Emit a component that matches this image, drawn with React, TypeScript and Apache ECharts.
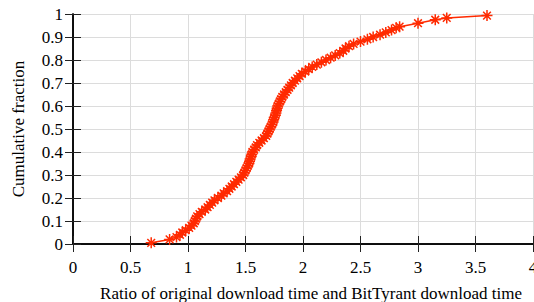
import React, { useEffect, useRef } from "react";
import * as echarts from "echarts";

const xTicks = [0, 0.5, 1, 1.5, 2, 2.5, 3, 3.5, 4];
const yTicks = [0, 0.1, 0.2, 0.3, 0.4, 0.5, 0.6, 0.7, 0.8, 0.9, 1];

const ratio = [
  0.68, 0.84, 0.9, 0.93, 0.95, 0.98, 1.01, 1.03, 1.05, 1.06,
  1.07, 1.08, 1.1, 1.12, 1.15, 1.17, 1.19, 1.21, 1.23, 1.26,
  1.29, 1.31, 1.34, 1.36, 1.38, 1.4, 1.42, 1.44, 1.46, 1.48,
  1.49, 1.5, 1.51, 1.52, 1.53, 1.535, 1.54, 1.55, 1.555, 1.56,
  1.575, 1.59, 1.6, 1.62, 1.64, 1.66, 1.68, 1.69, 1.7, 1.71,
  1.72, 1.73, 1.74, 1.745, 1.75, 1.76, 1.765, 1.77, 1.775, 1.78,
  1.79, 1.8, 1.81, 1.82, 1.835, 1.85, 1.865, 1.88, 1.895, 1.91,
  1.93, 1.95, 1.97, 1.99, 2.02, 2.05, 2.08, 2.12, 2.16, 2.2,
  2.24, 2.28, 2.32, 2.35, 2.37, 2.4, 2.44, 2.5, 2.56, 2.61,
  2.67, 2.72, 2.77, 2.81, 2.84, 3.0, 3.15, 3.25, 3.6,
];
const fraction = [
  0.005, 0.02, 0.03, 0.04, 0.05, 0.06, 0.07, 0.08, 0.09, 0.1,
  0.11, 0.12, 0.13, 0.14, 0.15, 0.16, 0.17, 0.18, 0.19, 0.2,
  0.21, 0.22, 0.23, 0.24, 0.25, 0.26, 0.27, 0.28, 0.29, 0.3,
  0.31, 0.32, 0.33, 0.34, 0.35, 0.36, 0.37, 0.38, 0.39, 0.4,
  0.41, 0.42, 0.43, 0.44, 0.45, 0.46, 0.47, 0.48, 0.49, 0.5,
  0.51, 0.52, 0.53, 0.54, 0.55, 0.56, 0.57, 0.58, 0.59, 0.6,
  0.61, 0.62, 0.63, 0.64, 0.65, 0.66, 0.67, 0.68, 0.69, 0.7,
  0.71, 0.72, 0.73, 0.74, 0.75, 0.76, 0.77, 0.78, 0.79, 0.8,
  0.81, 0.82, 0.83, 0.84, 0.85, 0.86, 0.87, 0.88, 0.89, 0.9,
  0.91, 0.92, 0.93, 0.94, 0.945, 0.96, 0.975, 0.983, 0.993,
];

const xTitle = "Ratio of original download time and BitTyrant download time";
const yTitle = "Cumulative fraction";

const FONT = "Times New Roman, Liberation Serif, serif";
const RED = "#ff2a00";
const STAR =
  "path://M5,0L5,10M0,5L10,5M1.5,1.5L8.5,8.5M1.5,8.5L8.5,1.5";

export default function App() {
  const ref = useRef<HTMLDivElement>(null);
  useEffect(() => {
    if (!ref.current) return;
    const chart = echarts.init(ref.current, null, { renderer: "svg" });
    const axisCommon = {
      type: "value" as const,
      axisLine: { show: true, lineStyle: { color: "#000", width: 1.5 } },
      axisTick: { show: true, inside: true, length: 8, lineStyle: { color: "#222", width: 1 } },
    };
    const label = { fontFamily: FONT, fontSize: 17, color: "#000" };
    chart.setOption({
      animation: false,
      backgroundColor: "#fff",
      textStyle: { fontFamily: FONT },
      grid: {
        left: 73,
        right: 1,
        top: 14,
        bottom: 58,
        containLabel: false,
        outerBoundsMode: "none",
      },
      xAxis: [
        {
          ...axisCommon,
          min: xTicks[0],
          max: xTicks[xTicks.length - 1],
          interval: 0.5,
          name: xTitle,
          nameLocation: "middle",
          nameGap: 41,
          nameTextStyle: { ...label, padding: [0, 0, 0, 16] },
          axisLabel: { ...label, margin: 15 },
          splitLine: { show: true, lineStyle: { color: "#dcdcdc", width: 1 } },
        },
        {
          ...axisCommon,
          position: "top",
          min: xTicks[0],
          max: xTicks[xTicks.length - 1],
          interval: 0.5,
          axisLabel: { show: false },
          splitLine: { show: false },
        },
      ],
      yAxis: [
        {
          ...axisCommon,
          min: yTicks[0],
          max: yTicks[yTicks.length - 1],
          interval: 0.1,
          name: yTitle,
          nameLocation: "middle",
          nameGap: 46,
          nameTextStyle: label,
          axisLabel: {
            ...label,
            margin: 10,
            formatter: (v: number) => String(Math.round(v * 10) / 10),
          },
          splitLine: { show: true, lineStyle: { color: "#dcdcdc", width: 1 } },
        },
        {
          ...axisCommon,
          position: "right",
          min: yTicks[0],
          max: yTicks[yTicks.length - 1],
          interval: 0.1,
          axisLabel: { show: false },
          splitLine: { show: false },
        },
      ],
      series: [
        {
          type: "line",
          data: ratio.map((x, i) => [x, fraction[i]]),
          showSymbol: true,
          symbol: STAR,
          symbolSize: 11,
          lineStyle: { color: RED, width: 1.5 },
          itemStyle: { color: "none", borderColor: RED, borderWidth: 1.5 },
          emphasis: { disabled: true },
          z: 5,
        },
      ],
    });
    return () => chart.dispose();
  }, []);
  return (
    <div
      ref={ref}
      style={{ position: "fixed", left: 0, top: 0, width: 534, height: 302 }}
    />
  );
}
